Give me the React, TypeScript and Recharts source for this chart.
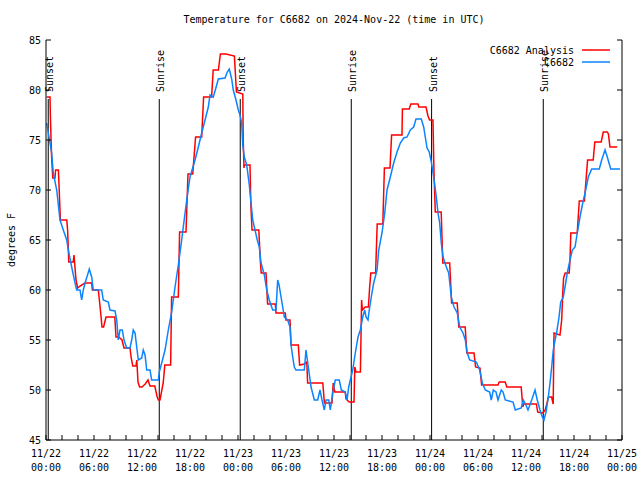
import React from "react";
import { LineChart, Line, XAxis, YAxis, ReferenceLine } from "recharts";

// hours since 11/22 00:00 UTC, degrees F
const analysisHours = [
  0.09, 0.5, 0.55, 0.7, 0.85, 1.12, 1.2, 1.55, 1.8, 2.6, 2.7, 2.85, 3.4, 3.5, 3.75, 3.95, 4.25, 4.875, 5.71, 5.8,
  6.54, 6.8, 7.0, 7.2, 7.5, 8.6, 8.75, 9.1, 9.5, 9.75, 10.5, 10.65, 10.85, 11.25, 11.35, 11.5, 11.7, 12.0, 12.4, 12.75,
  13.0, 13.6, 13.9, 14.05, 14.25, 14.65, 14.85, 15.58, 15.7, 16.54, 16.7, 17.5, 17.75, 18.34, 18.7, 19.46, 19.7, 20.7, 20.9, 21.55,
  21.8, 22.5, 23.55, 23.8, 24.6, 24.65, 24.75, 24.8, 25.5, 25.6, 25.75, 26.6, 26.8, 26.9, 27.5, 27.7, 28.66, 28.75, 29.91, 30.0,
  30.5, 30.63, 31.54, 31.7, 32.3, 32.6, 32.7, 34.6, 34.8, 35.75, 35.9, 36.1, 37.4, 37.5, 37.9, 38.5, 38.6, 38.75, 39.3, 39.45,
  39.55, 39.9, 40.3, 40.45, 40.6, 41.2, 41.4, 42.1, 42.3, 43.0, 43.2, 44.5, 44.55, 45.4, 45.6, 46.5, 46.6, 47.5, 47.75, 47.95,
  48.37, 48.5, 48.66, 49.4, 49.6, 50.46, 50.7, 51.4, 51.6, 52.4, 52.6, 53.5, 53.7, 54.25, 54.45, 56.5, 56.65, 57.4, 57.6, 59.4,
  59.6, 59.7, 61.3, 61.46, 62.1, 62.4, 62.6, 62.8, 63.2, 63.4, 63.5, 64.25, 64.46, 64.6, 64.7, 64.9, 65.4, 65.5, 65.6, 66.4,
  66.66, 67.3, 67.6, 67.7, 68.4, 68.6, 69.4, 69.66, 70.16, 70.3, 70.5, 71.4,
];
const analysisTemps = [
  79.3, 79.3, 77.3, 73.3, 71.2, 71.2, 72, 72, 67, 67, 66, 62.8, 62.8, 63.5, 61, 60.2, 60.4, 60.7, 60.7, 60,
  60, 58, 56.3, 56.3, 57.3, 57.3, 55.3, 55.3, 55, 54.2, 54.2, 53.2, 52.4, 52.4, 53, 50.8, 50.3, 50.3, 50.6, 51,
  50.4, 50.4, 49.3, 49, 49, 50.7, 52.5, 52.5, 59.3, 59.3, 65.8, 65.8, 71.6, 71.6, 75.3, 75.3, 79.3, 79.3, 82, 82,
  83.6, 83.6, 83.4, 79.8, 79.6, 75, 72.2, 72.5, 72.5, 68.7, 66, 66, 62.8, 61.7, 61.7, 58.6, 58.6, 57.7, 57.7, 57,
  57, 54.5, 54.5, 52.5, 52.6, 52.8, 50.7, 50.7, 48.7, 48.7, 50.7, 49.8, 49.8, 49.1, 48.8, 48.8, 52.3, 51.8, 51.8, 59,
  58, 58.3, 58.3, 60.2, 61.7, 61.7, 66.6, 66.6, 72.2, 72.2, 75.5, 75.5, 78.1, 78.1, 78.6, 78.6, 78.3, 78.3, 77.4, 77,
  77, 71.7, 67.8, 67.8, 62.7, 62.7, 58.7, 58.7, 56.3, 56.3, 53.7, 53.7, 52.3, 52.2, 50.5, 50.5, 50.8, 50.8, 50.3, 50.3,
  48.3, 48.6, 48.6, 47.8, 47.7, 48, 48.6, 49.3, 49.3, 48.6, 55.7, 55.5, 57, 59.8, 61.2, 61.7, 61.7, 63, 65.7, 65.7,
  68.9, 68.9, 72, 73, 73, 74.8, 74.8, 75.8, 75.8, 75.6, 74.3, 74.3,
];

const obsHours = [
  0.09, 0.29, 0.5, 0.71, 0.91, 1.34, 1.75, 2.16, 2.59, 2.79, 3.21, 3.63, 3.84, 4.25, 4.46, 4.66, 5.0, 5.41, 5.71, 5.91,
  6.96, 7.16, 7.79, 8.0, 8.63, 8.84, 9.04, 9.25, 9.54, 9.75, 10.09, 10.5, 10.71, 10.91, 11.13, 11.34, 11.54, 11.96, 12.16, 12.38,
  12.59, 13.0, 13.21, 14.04, 14.16, 14.46, 14.88, 15.29, 15.71, 16.13, 16.54, 16.96, 17.16, 17.59, 18.0, 18.63, 19.04, 19.46, 19.88, 20.29,
  20.5, 20.91, 21.34, 21.54, 22.38, 22.66, 22.91, 23.21, 23.41, 23.75, 24.04, 24.25, 24.46, 24.59, 24.79, 25.09, 25.41, 25.63, 25.84, 26.13,
  26.41, 26.66, 26.88, 27.29, 27.59, 27.91, 28.34, 28.75, 28.96, 29.13, 29.38, 29.59, 29.79, 30.21, 30.5, 30.63, 30.84, 31.04, 31.25, 32.29,
  32.5, 32.84, 33.13, 33.54, 33.96, 34.25, 34.5, 34.79, 35.0, 35.34, 35.54, 35.84, 36.16, 36.66, 36.91, 37.41, 37.63, 37.84, 38.04, 38.34,
  38.66, 39.0, 39.29, 39.59, 39.84, 40.0, 40.25, 40.41, 40.66, 40.96, 41.38, 41.59, 42.0, 42.34, 42.63, 43.04, 43.46, 43.88, 44.29, 44.71,
  45.13, 45.54, 45.96, 46.25, 46.91, 47.21, 47.41, 47.63, 47.91, 48.16, 48.46, 48.79, 49.0, 49.21, 49.41, 49.63, 50.04, 50.34, 50.66, 51.0,
  51.41, 51.71, 52.13, 52.41, 52.66, 52.96, 53.79, 54.21, 54.54, 54.91, 55.46, 55.66, 55.91, 56.25, 56.5, 56.91, 57.13, 57.41, 58.38, 58.66,
  59.41, 59.66, 59.88, 60.25, 60.71, 61.13, 61.41, 61.75, 62.04, 62.25, 62.5, 62.79, 63.0, 63.21, 63.41, 63.63, 63.84, 64.13, 64.34, 64.66,
  64.96, 65.16, 65.5, 65.79, 66.13, 66.41, 66.75, 67.09, 67.38, 67.79, 68.21, 69.16, 69.46, 69.88, 70.16, 70.59, 71.75,
];
const obsTemps = [
  76.7, 75.7, 74.7, 73.7, 71.7, 70, 67, 66, 65, 64, 62.3, 60.7, 60, 60, 59, 60, 61, 62.1, 61.3, 60,
  60, 59, 58.8, 58, 57.9, 57, 55, 56, 56, 55, 54.2, 54.2, 55, 56, 55.7, 54.3, 53, 53.2, 54, 53.5,
  52, 52, 51, 51, 51.8, 52.7, 54, 56, 57.8, 60.3, 62.5, 65, 66.3, 69, 71.3, 73, 74.3, 75.7, 77, 78.3,
  79.5, 79.3, 80.5, 81.1, 81.2, 81.8, 82.1, 81.1, 80, 79, 78, 77.5, 76.7, 74.5, 73.3, 72.5, 70.5, 68.7, 67, 66,
  65, 64.3, 62.7, 61.5, 60, 59, 58, 58, 61, 60.5, 59.3, 58.3, 57.3, 57, 56.3, 54.5, 53.3, 52.3, 52, 52,
  54, 52, 50.3, 49, 49, 50, 49, 48, 49, 49, 48, 49.7, 51, 51, 50, 49.8, 49, 50.3, 51, 52,
  53.7, 55.3, 56, 57.3, 58, 57.3, 57, 58, 59.3, 60.7, 62, 64, 65.7, 67.7, 70, 71.3, 72.7, 73.8, 74.7, 75.2,
  75.3, 76, 76.3, 77.1, 77.1, 76.3, 75.3, 74.2, 73.8, 72.8, 71.3, 69.3, 67.7, 66.7, 64.7, 63.3, 62.3, 61.7, 59.3, 58.3,
  57.7, 56.3, 55.7, 55, 53.7, 53, 52.8, 52, 50.7, 50, 49.8, 49, 50, 49.8, 49, 50, 49.8, 49, 48.8, 48,
  48.2, 49, 48.7, 48, 49, 50, 49, 48, 47.3, 47, 47.8, 49.3, 50.7, 52.3, 54, 55, 55.8, 57.3, 58.8, 59.3,
  60.7, 61.7, 63, 64, 64.3, 65.7, 67.3, 68.7, 69.7, 71.3, 72.1, 72.1, 73, 74, 73.3, 72.1, 72.1,
];

const sunsetHours = [0.28, 24.28, 48.2];
const sunriseHours = [14.16, 38.16, 62.16];

const xTicks = [0, 2, 4, 6, 8, 10, 12, 14, 16, 18, 20, 22, 24, 26, 28, 30, 32, 34, 36, 38, 40, 42, 44, 46, 48, 50, 52, 54, 56, 58, 60, 62, 64, 66, 68, 70, 72];
const majorHours = [0, 6, 12, 18, 24, 30, 36, 42, 48, 54, 60, 66, 72];
const dateLabels = ["11/22", "11/22", "11/22", "11/22", "11/23", "11/23", "11/23", "11/23", "11/24", "11/24", "11/24", "11/24", "11/25"];
const timeLabels = ["00:00", "06:00", "12:00", "18:00", "00:00", "06:00", "12:00", "18:00", "00:00", "06:00", "12:00", "18:00", "00:00"];
const yTicks = [45, 50, 55, 60, 65, 70, 75, 80, 85];

const analysisData = analysisHours.map((h, i) => ({ h, t: analysisTemps[i] }));
const obsData = obsHours.map((h, i) => ({ h, t: obsTemps[i] }));

const FONT = "'DejaVu Sans Mono', monospace";
const TOP = 40;
const BOTTOM = 440;
const LEFT = 46;
const RIGHT = 622;
const TICK = 5;

const BottomTick = (props: any) => {
  const { x, payload } = props;
  const idx = majorHours.indexOf(payload.value);
  return (
    <g>
      <line x1={x} x2={x} y1={BOTTOM} y2={BOTTOM - TICK} stroke="#000" />
      {idx >= 0 && (
        <text x={x} y={457} textAnchor="middle" fontFamily={FONT} fontSize={10} fill="#000">
          {dateLabels[idx]}
        </text>
      )}
      {idx >= 0 && (
        <text x={x} y={471} textAnchor="middle" fontFamily={FONT} fontSize={10} fill="#000">
          {timeLabels[idx]}
        </text>
      )}
    </g>
  );
};

const TopTick = (props: any) => (
  <line x1={props.x} x2={props.x} y1={TOP} y2={TOP + TICK} stroke="#000" />
);

const LeftTick = (props: any) => {
  const { y, payload } = props;
  return (
    <g>
      <line x1={LEFT} x2={LEFT + TICK} y1={y} y2={y} stroke="#000" />
      <text x={41} y={y + 4} textAnchor="end" fontFamily={FONT} fontSize={10} fill="#000">
        {payload.value}
      </text>
    </g>
  );
};

const RightTick = (props: any) => (
  <line x1={RIGHT} x2={RIGHT - TICK} y1={props.y} y2={props.y} stroke="#000" />
);

const sunLabel = (name: string) => (props: any) => {
  const x = props.viewBox.x + 5;
  return (
    <text
      x={x}
      y={92}
      transform={`rotate(-90 ${x} 92)`}
      fontFamily={FONT}
      fontSize={10}
      fill="#000"
    >
      {name}
    </text>
  );
};

const series = [
  { name: "C6682 Analysis", data: analysisData, color: "#ff0000" },
  { name: "C6682", data: obsData, color: "#0a84ff" },
];

export default function App() {
  return (
    <div style={{ position: "absolute", left: 0, top: 0, width: 640, height: 480, background: "#fff" }}>
      <LineChart width={640} height={480} margin={{ top: 40, right: 0, bottom: 0, left: 0 }}>
        <XAxis
          xAxisId="b"
          dataKey="h"
          type="number"
          domain={[0, 72]}
          ticks={xTicks}
          interval={0}
          allowDataOverflow
          height={40}
          tickLine={false}
          axisLine={{ stroke: "#000" }}
          tick={<BottomTick />}
        />
        <XAxis
          xAxisId="t"
          orientation="top"
          dataKey="h"
          type="number"
          domain={[0, 72]}
          ticks={xTicks}
          interval={0}
          allowDataOverflow
          height={0}
          tickLine={false}
          axisLine={{ stroke: "#000" }}
          tick={<TopTick />}
        />
        <YAxis
          yAxisId="l"
          type="number"
          domain={[45, 85]}
          ticks={yTicks}
          interval={0}
          allowDataOverflow
          width={46}
          tickLine={false}
          axisLine={{ stroke: "#000" }}
          tick={<LeftTick />}
        />
        <YAxis
          yAxisId="r"
          orientation="right"
          type="number"
          domain={[45, 85]}
          ticks={yTicks}
          interval={0}
          allowDataOverflow
          width={18}
          tickLine={false}
          axisLine={{ stroke: "#000" }}
          tick={<RightTick />}
        />
        {sunsetHours.concat(sunriseHours).map((h, i) => (
          <ReferenceLine
            key={"sun" + i}
            xAxisId="b"
            yAxisId="l"
            segment={[
              { x: h, y: 45 },
              { x: h, y: 79.1 },
            ]}
            stroke="#000"
            strokeWidth={1}
            label={sunLabel(i < sunsetHours.length ? "Sunset" : "Sunrise")}
          />
        ))}
        {series.map((s) => (
          <Line
            key={s.name}
            xAxisId="b"
            yAxisId="l"
            data={s.data}
            dataKey="t"
            name={s.name}
            type="linear"
            stroke={s.color}
            strokeWidth={1.5}
            dot={false}
            activeDot={false}
            isAnimationActive={false}
          />
        ))}
        <text x={334} y={23} textAnchor="middle" fontFamily={FONT} fontSize={10} fill="#000">
          Temperature for C6682 on 2024-Nov-22 (time in UTC)
        </text>
        <text
          x={15}
          y={240}
          transform="rotate(-90 15 240)"
          textAnchor="middle"
          fontFamily={FONT}
          fontSize={10}
          fill="#000"
        >
          degrees F
        </text>
        {series.map((s, i) => (
          <g key={"leg" + i}>
            <text x={574} y={54 + i * 12} textAnchor="end" fontFamily={FONT} fontSize={10} fill="#000">
              {s.name}
            </text>
            <line x1={582} x2={610} y1={50 + i * 12} y2={50 + i * 12} stroke={s.color} strokeWidth={1.5} />
          </g>
        ))}
      </LineChart>
    </div>
  );
}
